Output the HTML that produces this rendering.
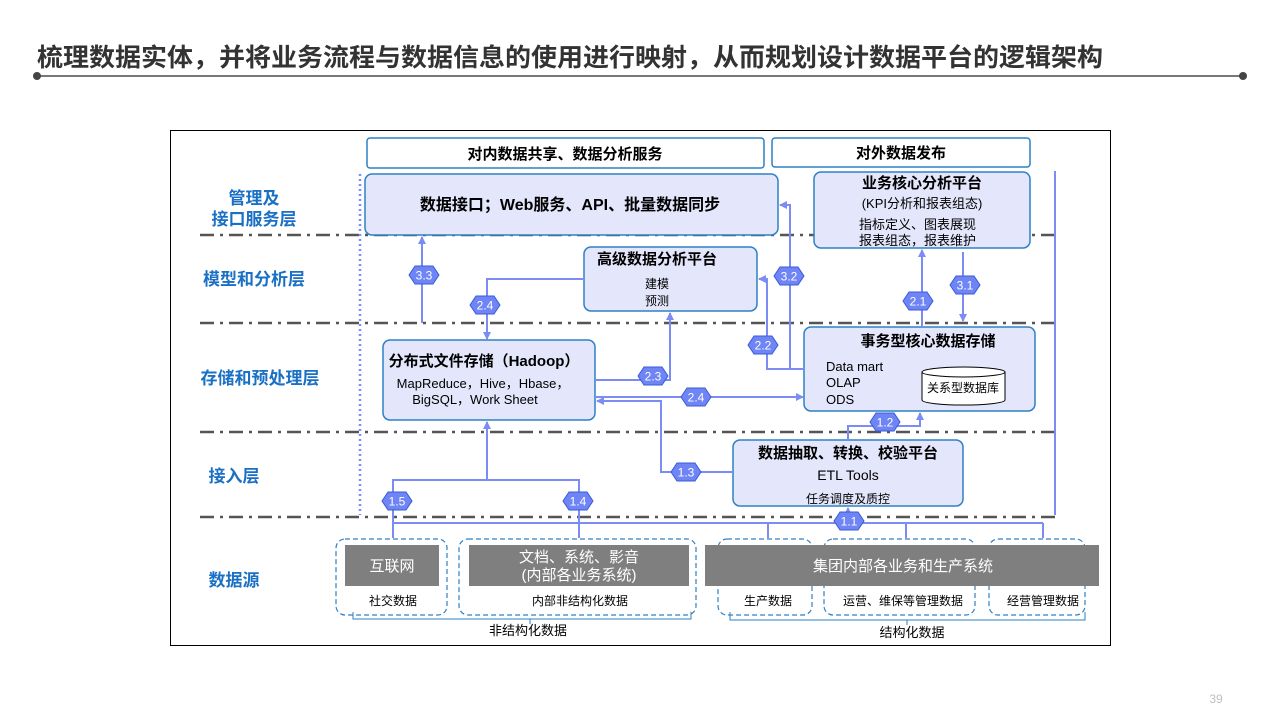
<!DOCTYPE html>
<html><head><meta charset="utf-8"><style>
html,body{margin:0;padding:0;background:#fff;}
svg{display:block;font-family:"Liberation Sans","Noto Sans CJK SC",sans-serif;}
.b{font-weight:bold;}
.lay{fill:#1a70c4;font-weight:bold;font-size:17px;text-anchor:middle;}
.box{fill:#e4e6fb;stroke:#2e80c6;stroke-width:1.5;}
.cn{stroke:#7b8cf5;stroke-width:2;fill:none;}
.dd{stroke:#555;stroke-width:2.5;stroke-dasharray:14 6 3 6;}
.hx{fill:#6f84f5;stroke:#3a5bd8;stroke-width:1;}
.ht{fill:#fff;font-size:12px;text-anchor:middle;}
.ds{fill:none;stroke:#2e80c6;stroke-width:1.2;stroke-dasharray:5 3;}
</style></head><body>
<svg width="1280" height="720" viewBox="0 0 1280 720" xmlns="http://www.w3.org/2000/svg">
<defs>
<marker id="a" markerWidth="8" markerHeight="8" refX="7" refY="4" orient="auto" markerUnits="userSpaceOnUse"><path d="M0,0 L8,4 L0,8 z" fill="#7b8cf5"/></marker>
<g id="hex"><polygon class="hx" points="-15,0 -9,-9 9,-9 15,0 9,9 -9,9"/></g>
</defs>
<text x="37" y="66" font-size="25" class="b" fill="#333" textLength="1066" lengthAdjust="spacingAndGlyphs">梳理数据实体，并将业务流程与数据信息的使用进行映射，从而规划设计数据平台的逻辑架构</text>
<line x1="37" y1="76" x2="1243" y2="76" stroke="#777" stroke-width="2"/>
<circle cx="37" cy="76" r="4" fill="#444"/><circle cx="1243" cy="76" r="4" fill="#444"/>
<rect x="170.5" y="130.5" width="940" height="515" fill="#fff" stroke="#000" stroke-width="1"/>

<!-- dash-dot separators -->
<line class="dd" x1="200" y1="235" x2="1056" y2="235"/>
<line class="dd" x1="200" y1="323" x2="1056" y2="323"/>
<line class="dd" x1="200" y1="432" x2="1056" y2="432"/>
<line class="dd" x1="200" y1="517" x2="1056" y2="517"/>
<line x1="360" y1="174" x2="360" y2="515" stroke="#7b8cf5" stroke-width="2.5" stroke-dasharray="2 3"/>
<line x1="1055" y1="171" x2="1055" y2="515" stroke="#7b8cf5" stroke-width="2"/>

<!-- layer labels -->
<text class="lay" x="254" y="204">管理及</text>
<text class="lay" x="254" y="225">接口服务层</text>
<text class="lay" x="254" y="285">模型和分析层</text>
<text class="lay" x="260" y="384">存储和预处理层</text>
<text class="lay" x="234" y="482">接入层</text>
<text class="lay" x="234" y="586">数据源</text>

<!-- top boxes -->
<rect x="367" y="138" width="397" height="30" rx="3" fill="#fff" stroke="#2e80c6" stroke-width="1.5"/>
<text x="565" y="159" font-size="15" class="b" text-anchor="middle">对内数据共享、数据分析服务</text>
<rect x="772" y="138" width="258" height="29" rx="3" fill="#fff" stroke="#2e80c6" stroke-width="1.5"/>
<text x="901" y="158" font-size="15" class="b" text-anchor="middle">对外数据发布</text>

<rect class="box" x="365" y="174" width="413" height="61" rx="7"/>
<text x="570" y="210" font-size="16" class="b" text-anchor="middle">数据接口；Web服务、API、批量数据同步</text>

<rect class="box" x="814" y="172" width="216" height="76" rx="7"/>
<text x="922" y="188" font-size="15" class="b" text-anchor="middle">业务核心分析平台</text>
<text x="922" y="208" font-size="13" text-anchor="middle">(KPI分析和报表组态)</text>
<text x="859" y="229" font-size="13">指标定义、图表展现</text>
<text x="859" y="245" font-size="13">报表组态，报表维护</text>

<rect class="box" x="584" y="247" width="173" height="64" rx="7"/>
<text x="657" y="264" font-size="15" class="b" text-anchor="middle">高级数据分析平台</text>
<text x="657" y="288" font-size="12" text-anchor="middle">建模</text>
<text x="657" y="305" font-size="12" text-anchor="middle">预测</text>

<rect class="box" x="383" y="340" width="212" height="80" rx="7"/>
<text x="484" y="366" font-size="15" class="b" text-anchor="middle">分布式文件存储（Hadoop）</text>
<text x="483" y="388" font-size="13" text-anchor="middle">MapReduce，Hive，Hbase，</text>
<text x="475" y="404" font-size="13" text-anchor="middle">BigSQL，Work Sheet</text>

<rect class="box" x="804" y="327" width="231" height="84" rx="7"/>
<text x="928" y="346" font-size="15" class="b" text-anchor="middle">事务型核心数据存储</text>
<text x="826" y="371" font-size="13">Data mart</text>
<text x="826" y="387" font-size="13">OLAP</text>
<text x="826" y="404" font-size="13">ODS</text>
<path d="M922,372 L922,400 A41,5 0 0 0 1005,400 L1005,372" fill="#fff" stroke="#000" stroke-width="1"/>
<ellipse cx="963.5" cy="372" rx="41.5" ry="5" fill="#fff" stroke="#000" stroke-width="1"/>
<text x="963" y="392" font-size="12" text-anchor="middle">关系型数据库</text>

<rect class="box" x="733" y="440" width="230" height="66" rx="7"/>
<text x="848" y="458" font-size="15" class="b" text-anchor="middle">数据抽取、转换、校验平台</text>
<text x="848" y="480" font-size="14" text-anchor="middle">ETL Tools</text>
<text x="848" y="503" font-size="12" text-anchor="middle">任务调度及质控</text>

<!-- connectors -->
<path class="cn" d="M422,323 L422,237" marker-end="url(#a)"/>
<path class="cn" d="M584,279 L487,279 L487,339" marker-end="url(#a)"/>
<path class="cn" d="M595,380 L670,380 L670,313" marker-end="url(#a)"/>
<path class="cn" d="M595,397 L803,397" marker-end="url(#a)"/>
<path class="cn" d="M733,472 L661,472 L661,401 L597,401" marker-end="url(#a)"/>
<path class="cn" d="M804,369 L767,369 L767,279 L759,279" marker-end="url(#a)"/>
<path class="cn" d="M790,369 L790,205 L780,205" marker-end="url(#a)"/>
<path class="cn" d="M922,327 L922,250" marker-end="url(#a)"/>
<path class="cn" d="M963,252 L963,321" marker-end="url(#a)"/>
<path class="cn" d="M848,440 L848,426 L920,426 L920,413" marker-end="url(#a)"/>
<path class="cn" d="M848,523 L848,508" marker-end="url(#a)"/>
<path class="cn" d="M393,538 L393,480 L579,480 L579,538"/>
<path class="cn" d="M487,480 L487,422" marker-end="url(#a)"/>
<path class="cn" d="M393,523 L1043,523"/>
<path class="cn" d="M768,523 L768,538 M906,523 L906,538 M1043,523 L1043,538"/>

<!-- hexes -->
<g transform="translate(424,275)"><use href="#hex"/><text class="ht" y="4.5">3.3</text></g>
<g transform="translate(485,305)"><use href="#hex"/><text class="ht" y="4.5">2.4</text></g>
<g transform="translate(789,276)"><use href="#hex"/><text class="ht" y="4.5">3.2</text></g>
<g transform="translate(763,345)"><use href="#hex"/><text class="ht" y="4.5">2.2</text></g>
<g transform="translate(918,301)"><use href="#hex"/><text class="ht" y="4.5">2.1</text></g>
<g transform="translate(965,285)"><use href="#hex"/><text class="ht" y="4.5">3.1</text></g>
<g transform="translate(653,376)"><use href="#hex"/><text class="ht" y="4.5">2.3</text></g>
<g transform="translate(696,397)"><use href="#hex"/><text class="ht" y="4.5">2.4</text></g>
<g transform="translate(885,422)"><use href="#hex"/><text class="ht" y="4.5">1.2</text></g>
<g transform="translate(686,472)"><use href="#hex"/><text class="ht" y="4.5">1.3</text></g>
<g transform="translate(397,501)"><use href="#hex"/><text class="ht" y="4.5">1.5</text></g>
<g transform="translate(578,501)"><use href="#hex"/><text class="ht" y="4.5">1.4</text></g>
<g transform="translate(849,521)"><use href="#hex"/><text class="ht" y="4.5">1.1</text></g>

<!-- data sources -->
<rect class="ds" x="336" y="539" width="111" height="76" rx="9"/>
<rect class="ds" x="459" y="539" width="237" height="76" rx="9"/>
<rect class="ds" x="718" y="539" width="94" height="76" rx="9"/>
<rect class="ds" x="824" y="539" width="151" height="76" rx="9"/>
<rect class="ds" x="989" y="539" width="96" height="76" rx="9"/>
<rect x="345" y="545" width="94" height="41" fill="#7f7f7f"/>
<text x="392" y="571" font-size="15" fill="#fff" text-anchor="middle">互联网</text>
<rect x="469" y="545" width="220" height="41" fill="#7f7f7f"/>
<text x="579" y="562" font-size="15" fill="#fff" text-anchor="middle">文档、系统、影音</text>
<text x="579" y="580" font-size="15" fill="#fff" text-anchor="middle">(内部各业务系统)</text>
<rect x="705" y="545" width="394" height="41" fill="#7f7f7f"/>
<text x="903" y="571" font-size="15" fill="#fff" text-anchor="middle">集团内部各业务和生产系统</text>
<text x="393" y="605" font-size="12" text-anchor="middle">社交数据</text>
<text x="580" y="605" font-size="12" text-anchor="middle">内部非结构化数据</text>
<text x="768" y="605" font-size="12" text-anchor="middle">生产数据</text>
<text x="903" y="605" font-size="12" text-anchor="middle">运营、维保等管理数据</text>
<text x="1043" y="605" font-size="12" text-anchor="middle">经营管理数据</text>
<path d="M353,612 L353,619 L691,619 L691,612 M530,619 L530,624" fill="none" stroke="#2e80c6" stroke-width="1"/>
<path d="M730,612 L730,620 L1085,620 L1085,612 M907,620 L907,625" fill="none" stroke="#2e80c6" stroke-width="1"/>
<text x="528" y="635" font-size="13" text-anchor="middle">非结构化数据</text>
<text x="912" y="637" font-size="13" text-anchor="middle">结构化数据</text>

<text x="1216" y="703" font-size="12" fill="#c0c0c0" text-anchor="middle">39</text>
</svg>
</body></html>
